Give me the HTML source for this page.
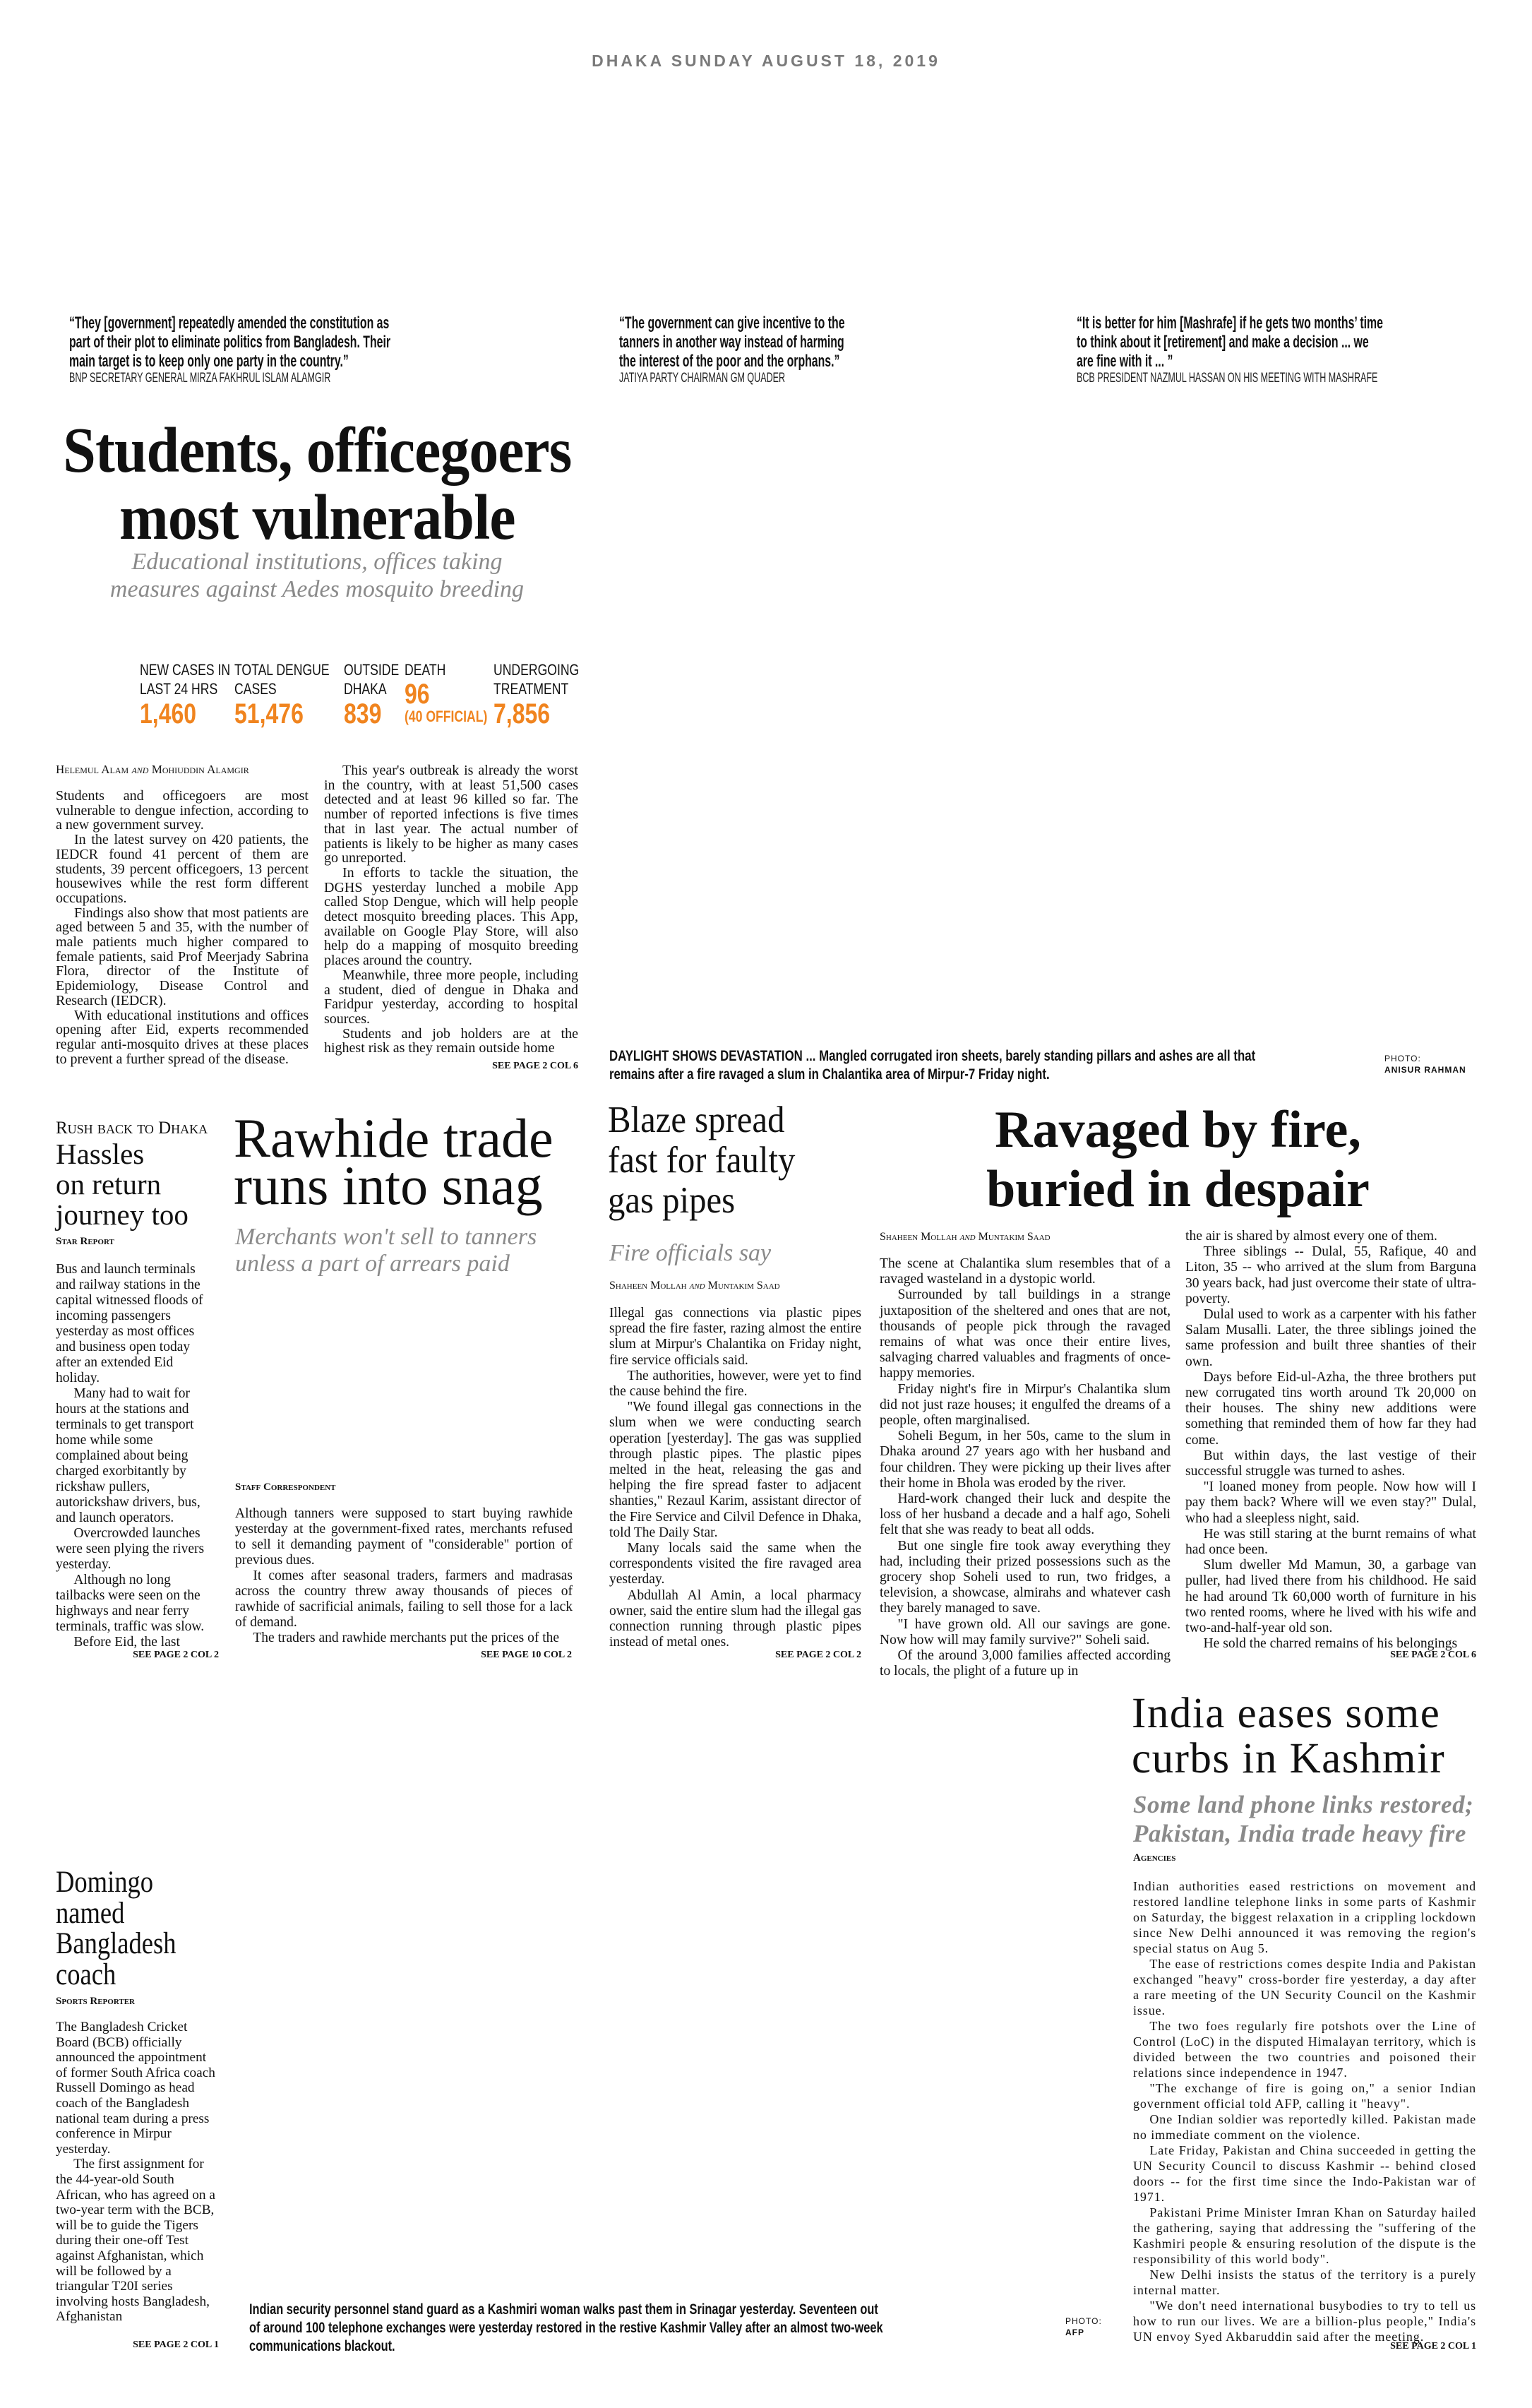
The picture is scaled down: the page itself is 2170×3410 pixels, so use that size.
<!DOCTYPE html>
<html><head><meta charset="utf-8">
<style>
*{margin:0;padding:0;box-sizing:border-box}
body{width:2170px;height:3410px;background:#fff;position:relative;overflow:hidden;color:#111;font-family:"Liberation Serif",serif}
.a{position:absolute}
.sx{transform-origin:0 0}
.q{font-family:"Liberation Sans",sans-serif;font-weight:bold;font-size:24px;line-height:27px;white-space:nowrap;color:#111}
.qa{font-family:"Liberation Sans",sans-serif;font-size:19px;line-height:22px;white-space:nowrap;color:#222}
.body p{text-indent:1.3em}
.body p.ni{text-indent:0}
.see{font-family:"Liberation Serif",serif;font-weight:bold;font-size:14px;text-align:right;white-space:nowrap}
.by{font-variant:small-caps;font-size:17px;white-space:nowrap}
.lab{font-family:"Liberation Sans",sans-serif;font-size:22px;line-height:27px;white-space:nowrap}
.num{font-family:"Liberation Sans",sans-serif;font-weight:bold;font-size:40px;color:#f0841f;white-space:nowrap}
.cap{font-family:"Liberation Sans",sans-serif;font-weight:bold;font-size:21px;line-height:26px;white-space:nowrap}
</style></head><body>

<div class="a" style="left:0;width:2170px;top:73px;text-align:center;font-family:'Liberation Sans',sans-serif;font-weight:bold;font-size:23px;letter-spacing:4px;color:#7a7a7a">DHAKA SUNDAY AUGUST 18, 2019</div>

<div class="a sx" style="left:98px;top:444px;transform:scaleX(.66)">
<div class="q">“They [government] repeatedly amended the constitution as<br>part of their plot to eliminate politics from Bangladesh. Their<br>main target is to keep only one party in the country.”</div>
<div class="qa">BNP SECRETARY GENERAL MIRZA FAKHRUL ISLAM ALAMGIR</div></div>

<div class="a sx" style="left:877px;top:444px;transform:scaleX(.66)">
<div class="q">“The government can give incentive to the<br>tanners in another way instead of harming<br>the interest of the poor and the orphans.”</div>
<div class="qa">JATIYA PARTY CHAIRMAN GM QUADER</div></div>

<div class="a sx" style="left:1525px;top:444px;transform:scaleX(.66)">
<div class="q">“It is better for him [Mashrafe] if he gets two months’ time<br>to think about it [retirement] and make a decision ... we<br>are fine with it ... ”</div>
<div class="qa">BCB PRESIDENT NAZMUL HASSAN ON HIS MEETING WITH MASHRAFE</div></div>

<div class="a" style="left:0;width:898px;top:590px;text-align:center">
<div style="display:inline-block;transform:scaleX(.92);font-weight:bold;font-size:91px;line-height:95px;white-space:nowrap;letter-spacing:-1px">Students, officegoers<br>most vulnerable</div></div>
<div class="a" style="left:0;width:898px;top:776px;text-align:center;font-style:italic;color:#8a8a8a;font-size:34px;line-height:39px">Educational institutions, offices taking<br>measures against Aedes mosquito breeding</div>

<div class="a sx" style="left:198px;top:935px;transform:scaleX(.8)"><div class="lab">NEW CASES IN<br>LAST 24 HRS</div><div class="num">1,460</div></div>
<div class="a sx" style="left:332px;top:935px;transform:scaleX(.8)"><div class="lab">TOTAL DENGUE<br>CASES</div><div class="num">51,476</div></div>
<div class="a sx" style="left:487px;top:935px;transform:scaleX(.8)"><div class="lab">OUTSIDE<br>DHAKA</div><div class="num">839</div></div>
<div class="a sx" style="left:573px;top:935px;transform:scaleX(.8)"><div class="lab">DEATH</div><div class="num" style="line-height:42px">96</div><div class="num" style="font-size:22px;line-height:22px">(40 OFFICIAL)</div></div>
<div class="a sx" style="left:699px;top:935px;transform:scaleX(.8)"><div class="lab">UNDERGOING<br>TREATMENT</div><div class="num">7,856</div></div>

<div class="a by" style="left:79px;top:1080px;font-size:17px">Helemul Alam <i>and</i> Mohiuddin Alamgir</div>
<div class="a body" style="left:79px;top:1117px;width:358px;font-size:20px;line-height:20.7px;text-align:justify">
<p class="ni">Students and officegoers are most vulnerable to dengue infection, according to a new government survey.</p>
<p>In the latest survey on 420 patients, the IEDCR found 41 percent of them are students, 39 percent officegoers, 13 percent housewives while the rest form different occupations.</p>
<p>Findings also show that most patients are aged between 5 and 35, with the number of male patients much higher compared to female patients, said Prof Meerjady Sabrina Flora, director of the Institute of Epidemiology, Disease Control and Research (IEDCR).</p>
<p>With educational institutions and offices opening after Eid, experts recommended regular anti-mosquito drives at these places to prevent a further spread of the disease.</p></div>
<div class="a body" style="left:459px;top:1081px;width:360px;font-size:20px;line-height:20.7px;text-align:justify">
<p>This year's outbreak is already the worst in the country, with at least 51,500 cases detected and at least 96 killed so far. The number of reported infections is five times that in last year. The actual number of patients is likely to be higher as many cases go unreported.</p>
<p>In efforts to tackle the situation, the DGHS yesterday lunched a mobile App called Stop Dengue, which will help people detect mosquito breeding places. This App, available on Google Play Store, will also help do a mapping of mosquito breeding places around the country.</p>
<p>Meanwhile, three more people, including a student, died of dengue in Dhaka and Faridpur yesterday, according to hospital sources.</p>
<p>Students and job holders are at the highest risk as they remain outside home</p></div>
<div class="a see" style="left:619px;width:200px;top:1502px">SEE PAGE 2 COL 6</div>

<div class="a sx" style="left:863px;top:1483px;transform:scaleX(.8)"><div class="cap">DAYLIGHT SHOWS DEVASTATION ... Mangled corrugated iron sheets, barely standing pillars and ashes are all that<br>remains after a fire ravaged a slum in Chalantika area of Mirpur-7 Friday night.</div></div>
<div class="a" style="left:1961px;top:1491px;font-family:'Liberation Sans',sans-serif;font-size:12px;line-height:16px;letter-spacing:1px">PHOTO:<br><b>ANISUR RAHMAN</b></div>

<div class="a" style="left:79px;top:1584px;font-variant:small-caps;font-size:25px;white-space:nowrap">Rush back to Dhaka</div>
<div class="a" style="left:79px;top:1613px;font-size:41px;line-height:43px">Hassles<br>on return<br>journey too</div>
<div class="a by" style="left:79px;top:1750px;font-size:15px;font-weight:bold">Star Report</div>
<div class="a body" style="left:79px;top:1787px;width:225px;font-size:19.5px;line-height:22px">
<p class="ni">Bus and launch terminals and railway stations in the capital witnessed floods of incoming passengers yesterday as most offices and business open today after an extended Eid holiday.</p>
<p>Many had to wait for hours at the stations and terminals to get transport home while some complained about being charged exorbitantly by rickshaw pullers, autorickshaw drivers, bus, and launch operators.</p>
<p>Overcrowded launches were seen plying the rivers yesterday.</p>
<p>Although no long tailbacks were seen on the highways and near ferry terminals, traffic was slow.</p>
<p>Before Eid, the last</p></div>
<div class="a see" style="left:110px;width:200px;top:2336px">SEE PAGE 2 COL 2</div>

<div class="a" style="left:331px;top:1578px;font-size:78px;line-height:67px;white-space:nowrap">Rawhide trade<br>runs into snag</div>
<div class="a" style="left:333px;top:1733px;font-size:34px;line-height:38px;font-style:italic;color:#8a8a8a;white-space:nowrap">Merchants won't sell to tanners<br>unless a part of arrears paid</div>
<div class="a by" style="left:333px;top:2098px;font-size:15px;font-weight:bold">Staff Correspondent</div>
<div class="a body" style="left:333px;top:2133px;width:478px;font-size:19.5px;line-height:22px;text-align:justify">
<p class="ni">Although tanners were supposed to start buying rawhide yesterday at the government-fixed rates, merchants refused to sell it demanding payment of "considerable" portion of previous dues.</p>
<p>It comes after seasonal traders, farmers and madrasas across the country threw away thousands of pieces of rawhide of sacrificial animals, failing to sell those for a lack of demand.</p>
<p>The traders and rawhide merchants put the prices of the</p></div>
<div class="a see" style="left:610px;width:200px;top:2336px">SEE PAGE 10 COL 2</div>

<div class="a sx" style="left:861px;top:1558px;transform:scaleX(.92);font-size:53px;line-height:57px;white-space:nowrap">Blaze spread<br>fast for faulty<br>gas pipes</div>
<div class="a" style="left:863px;top:1756px;font-size:34px;font-style:italic;color:#8a8a8a;white-space:nowrap">Fire officials say</div>
<div class="a by" style="left:863px;top:1812px;font-size:16px">Shaheen Mollah <i>and</i> Muntakim Saad</div>
<div class="a body" style="left:863px;top:1849px;width:357px;font-size:19.5px;line-height:22.2px;text-align:justify">
<p class="ni">Illegal gas connections via plastic pipes spread the fire faster, razing almost the entire slum at Mirpur's Chalantika on Friday night, fire service officials said.</p>
<p>The authorities, however, were yet to find the cause behind the fire.</p>
<p>"We found illegal gas connections in the slum when we were conducting search operation [yesterday]. The gas was supplied through plastic pipes. The plastic pipes melted in the heat, releasing the gas and helping the fire spread faster to adjacent shanties," Rezaul Karim, assistant director of the Fire Service and Cilvil Defence in Dhaka, told The Daily Star.</p>
<p>Many locals said the same when the correspondents visited the fire ravaged area yesterday.</p>
<p>Abdullah Al Amin, a local pharmacy owner, said the entire slum had the illegal gas connection running through plastic pipes instead of metal ones.</p></div>
<div class="a see" style="left:1020px;width:200px;top:2336px">SEE PAGE 2 COL 2</div>

<div class="a" style="left:1246px;width:845px;top:1558px;text-align:center;font-weight:bold;font-size:74px;line-height:84px;white-space:nowrap">Ravaged by fire,<br>buried in despair</div>
<div class="a by" style="left:1246px;top:1743px;font-size:16px">Shaheen Mollah <i>and</i> Muntakim Saad</div>
<div class="a body" style="left:1246px;top:1779px;width:412px;font-size:19.6px;line-height:22.2px;text-align:justify">
<p class="ni">The scene at Chalantika slum resembles that of a ravaged wasteland in a dystopic world.</p>
<p>Surrounded by tall buildings in a strange juxtaposition of the sheltered and ones that are not, thousands of people pick through the ravaged remains of what was once their entire lives, salvaging charred valuables and fragments of once-happy memories.</p>
<p>Friday night's fire in Mirpur's Chalantika slum did not just raze houses; it engulfed the dreams of a people, often marginalised.</p>
<p>Soheli Begum, in her 50s, came to the slum in Dhaka around 27 years ago with her husband and four children. They were picking up their lives after their home in Bhola was eroded by the river.</p>
<p>Hard-work changed their luck and despite the loss of her husband a decade and a half ago, Soheli felt that she was ready to beat all odds.</p>
<p>But one single fire took away everything they had, including their prized possessions such as the grocery shop Soheli used to run, two fridges, a television, a showcase, almirahs and whatever cash they barely managed to save.</p>
<p>"I have grown old. All our savings are gone. Now how will may family survive?" Soheli said.</p>
<p>Of the around 3,000 families affected according to locals, the plight of a future up in</p></div>
<div class="a body" style="left:1679px;top:1740px;width:412px;font-size:19.6px;line-height:22.2px;text-align:justify">
<p class="ni">the air is shared by almost every one of them.</p>
<p>Three siblings -- Dulal, 55, Rafique, 40 and Liton, 35 -- who arrived at the slum from Barguna 30 years back, had just overcome their state of ultra-poverty.</p>
<p>Dulal used to work as a carpenter with his father Salam Musalli. Later, the three siblings joined the same profession and built three shanties of their own.</p>
<p>Days before Eid-ul-Azha, the three brothers put new corrugated tins worth around Tk 20,000 on their houses. The shiny new additions were something that reminded them of how far they had come.</p>
<p>But within days, the last vestige of their successful struggle was turned to ashes.</p>
<p>"I loaned money from people. Now how will I pay them back? Where will we even stay?" Dulal, who had a sleepless night, said.</p>
<p>He was still staring at the burnt remains of what had once been.</p>
<p>Slum dweller Md Mamun, 30, a garbage van puller, had lived there from his childhood. He said he had around Tk 60,000 worth of furniture in his two rented rooms, where he lived with his wife and two-and-half-year old son.</p>
<p>He sold the charred remains of his belongings</p></div>
<div class="a see" style="left:1891px;width:200px;top:2336px">SEE PAGE 2 COL 6</div>

<div class="a" style="left:1603px;top:2395px;font-size:61px;line-height:64px;letter-spacing:1.5px;white-space:nowrap">India eases some<br>curbs in Kashmir</div>
<div class="a" style="left:1605px;top:2535px;font-size:35px;line-height:41px;font-style:italic;font-weight:bold;color:#8a8a8a;letter-spacing:0.5px;white-space:nowrap">Some land phone links restored;<br>Pakistan, India trade heavy fire</div>
<div class="a by" style="left:1605px;top:2623px;font-size:15px;font-weight:bold">Agencies</div>
<div class="a body" style="left:1605px;top:2660px;width:486px;font-size:18px;line-height:22px;letter-spacing:0.9px;text-align:justify">
<p class="ni">Indian authorities eased restrictions on movement and restored landline telephone links in some parts of Kashmir on Saturday, the biggest relaxation in a crippling lockdown since New Delhi announced it was removing the region's special status on Aug 5.</p>
<p>The ease of restrictions comes despite India and Pakistan exchanged "heavy" cross-border fire yesterday, a day after a rare meeting of the UN Security Council on the Kashmir issue.</p>
<p>The two foes regularly fire potshots over the Line of Control (LoC) in the disputed Himalayan territory, which is divided between the two countries and poisoned their relations since independence in 1947.</p>
<p>"The exchange of fire is going on," a senior Indian government official told AFP, calling it "heavy".</p>
<p>One Indian soldier was reportedly killed. Pakistan made no immediate comment on the violence.</p>
<p>Late Friday, Pakistan and China succeeded in getting the UN Security Council to discuss Kashmir -- behind closed doors -- for the first time since the Indo-Pakistan war of 1971.</p>
<p>Pakistani Prime Minister Imran Khan on Saturday hailed the gathering, saying that addressing the "suffering of the Kashmiri people &amp; ensuring resolution of the dispute is the responsibility of this world body".</p>
<p>New Delhi insists the status of the territory is a purely internal matter.</p>
<p>"We don't need international busybodies to try to tell us how to run our lives. We are a billion-plus people," India's UN envoy Syed Akbaruddin said after the meeting.</p></div>
<div class="a see" style="left:1891px;width:200px;top:3315px">SEE PAGE 2 COL 1</div>

<div class="a sx" style="left:79px;top:2644px;transform:scaleX(.85);font-size:43px;line-height:43.5px">Domingo<br>named<br>Bangladesh<br>coach</div>
<div class="a by" style="left:79px;top:2826px;font-size:15px;font-weight:bold">Sports Reporter</div>
<div class="a body" style="left:79px;top:2860px;width:228px;font-size:19.3px;line-height:21.6px">
<p class="ni">The Bangladesh Cricket Board (BCB) officially announced the appointment of former South Africa coach Russell Domingo as head coach of the Bangladesh national team during a press conference in Mirpur yesterday.</p>
<p>The first assignment for the 44-year-old South African, who has agreed on a two-year term with the BCB, will be to guide the Tigers during their one-off Test against Afghanistan, which will be followed by a triangular T20I series involving hosts Bangladesh, Afghanistan</p></div>
<div class="a see" style="left:110px;width:200px;top:3313px">SEE PAGE 2 COL 1</div>

<div class="a sx" style="left:353px;top:3258px;transform:scaleX(.78)"><div class="cap">Indian security personnel stand guard as a Kashmiri woman walks past them in Srinagar yesterday. Seventeen out<br>of around 100 telephone exchanges were yesterday restored in the restive Kashmir Valley after an almost two-week<br>communications blackout.</div></div>
<div class="a" style="left:1509px;top:3279px;font-family:'Liberation Sans',sans-serif;font-size:12px;line-height:16px;letter-spacing:1px">PHOTO:<br><b>AFP</b></div>

</body></html>
